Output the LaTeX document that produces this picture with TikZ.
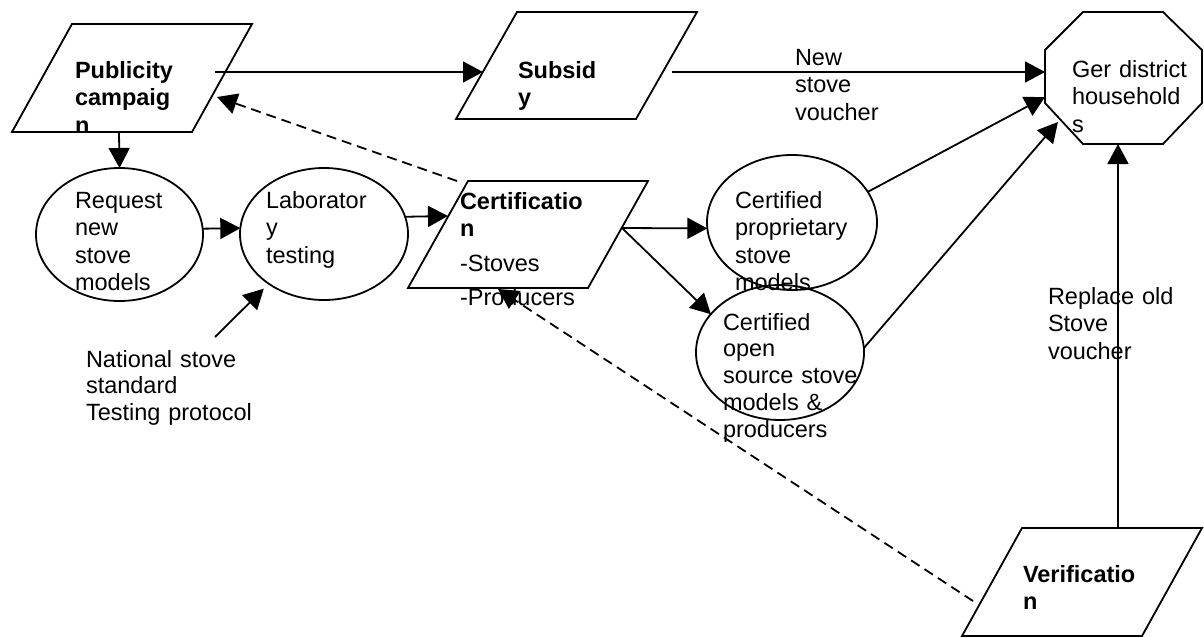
\documentclass[tikz,border=0pt]{standalone}
\usepackage{fontspec}
\setmainfont{Liberation Sans}
\usetikzlibrary{arrows.meta,shapes.geometric,calc}
\begin{document}
\begin{tikzpicture}[x=1pt,y=-1pt,
  line width=1.8pt,
  outline/.style={draw=black, line width=1.8pt, line join=miter},
  frame/.style={rectangle, inner sep=0pt, outer sep=0pt, draw=none},
  oval/.style={ellipse, draw=black, line width=1.8pt, inner sep=0pt, outer sep=0pt},
  lbl/.style={anchor=base west, inner sep=0pt, outer sep=0pt, text width=300pt, align=left, font=\fontsize{23.5}{27.5}\selectfont},
  blbl/.style={lbl, font=\fontsize{23.5}{27.5}\selectfont\bfseries},
  tlbl/.style={lbl, font=\fontsize{23.5}{26.8}\selectfont},
  arr/.style={-{Triangle[length=20pt,width=21pt]}, line width=1.8pt},
  darr/.style={arr, dash pattern=on 10pt off 6pt},
]
\useasboundingbox (0,0) rectangle (1204,637);

% parallelogram frames
\node[frame, minimum width=240pt, minimum height=108pt] (pub) at (132,78) {};
\node[frame, minimum width=241pt, minimum height=107pt] (sub) at (576.5,65.5) {};
\node[frame, minimum width=240pt, minimum height=107pt] (cert) at (528,234.5) {};
\node[frame, minimum width=240pt, minimum height=108pt] (ver) at (1082,582) {};
\node[frame, minimum width=157pt, minimum height=132pt] (ger) at (1123.5,78) {};

\draw[outline] (pub.south west) -- ([xshift=60pt]pub.north west) -- (pub.north east) -- ([xshift=-60pt]pub.south east) -- cycle;
\draw[outline] (sub.south west) -- ([xshift=61pt]sub.north west) -- (sub.north east) -- ([xshift=-61pt]sub.south east) -- cycle;
\draw[outline] (cert.south west) -- ([xshift=60pt]cert.north west) -- (cert.north east) -- ([xshift=-60pt]cert.south east) -- cycle;
\draw[outline] (ver.south west) -- ([xshift=60pt]ver.north west) -- (ver.north east) -- ([xshift=-60pt]ver.south east) -- cycle;
\draw[outline] ([xshift=38pt]ger.north west) -- ([xshift=-39pt]ger.north east) -- ([yshift=-38pt]ger.north east) -- ([yshift=41pt]ger.south east) -- ([xshift=-39pt]ger.south east) -- ([xshift=38pt]ger.south west) -- ([yshift=41pt]ger.south west) -- ([yshift=-38pt]ger.north west) -- cycle;

% ellipses
\node[oval, minimum width=167pt, minimum height=133pt] (req) at (119.5,234.5) {};
\node[oval, minimum width=168pt, minimum height=132pt] (lab) at (324,234) {};
\node[oval, minimum width=170pt, minimum height=135pt] (cp) at (792,222.5) {};
\node[oval, minimum width=168pt, minimum height=135pt] (cos) at (780,352.5) {};

% texts
\node[blbl] (pubtxt) at (75,78) {Publicity\\campaig\\n};
\node[blbl] (subtxt) at (518,78) {Subsid\\y};
\node[lbl] (newtxt) at (795,65) {New\\stove\\voucher};
\node[lbl] (gertxt) at (1072,77) {Ger district\\household\\s};
\node[lbl] (reqtxt) at (75,208) {Request\\new\\stove\\models};
\node[lbl] (labtxt) at (266,208) {Laborator\\y\\testing};
\node[lbl] (certtxt) at (460,209) {\textbf{Certificatio}\\\textbf{n}\\[7.5pt]-Stoves\\[6.5pt]-Producers};
\node[lbl] (cptxt) at (735,208) {Certified\\proprietary\\stove\\models};
\node[tlbl] (costxt) at (723,330) {Certified\\open\\source stove\\models \&\\producers};
\node[tlbl] (nattxt) at (86,367) {National stove\\standard\\Testing protocol};
\node[lbl] (reptxt) at (1048,304) {Replace old\\Stove\\voucher};
\node[blbl] (vertxt) at (1023,582) {Verificatio\\n};

\coordinate (nattail) at (215,337);

% connectors
\draw[arr] ([xshift=-13pt]pub.south) -- (req.north);
\draw[arr] ($(pub.center)+(83,-6)$) -- ($(sub.center)+(-93.5,6.5)$);
\draw[arr] ($(sub.center)+(95.5,6.5)$) -- ($(ger.center)+(-78.5,-6)$);
\draw[arr] (req.4.5) -- (lab.176);
\draw[arr] (lab.12.6) -- ($(cert.center)+(-80,-18.5)$);
\draw[arr, shorten >=7pt] (nattail) -- (lab.222);
\draw[arr] ($(cert.center)+(94,-6.5)$) -- (cp.184);
\draw[arr] ($(cert.center)+(94,-6.5)$) -- (cos.151);
\draw[arr] (cp.22) -- ($(ger.center)+(-78.5,19)$);
\draw[arr] (cos.3) -- ($(ger.center)+(-65.5,44)$);
\draw[arr] ([xshift=36pt]ver.north) -- ([xshift=-5.5pt]ger.south);
\draw[darr] ($(cert.center)+(-71,-53.5)$) -- ($(pub.center)+(85,19)$);
\draw[darr] ($(ver.center)+(-109,19)$) -- ($(cert.center)+(-30,54.5)$);
\end{tikzpicture}
\end{document}
